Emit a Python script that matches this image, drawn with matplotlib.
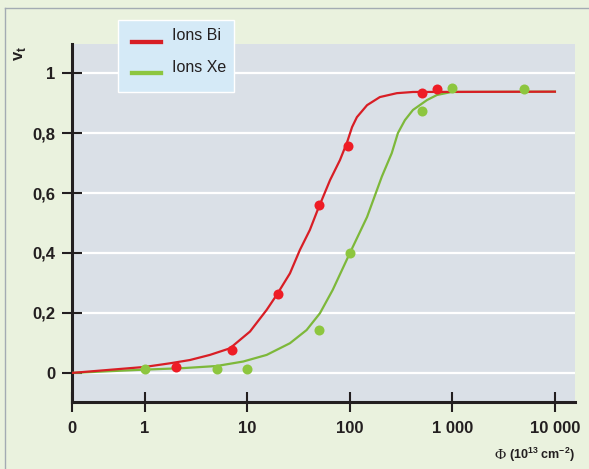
import matplotlib
matplotlib.use('Agg')
import matplotlib.pyplot as plt
from matplotlib.lines import Line2D
from matplotlib.patches import Rectangle

plt.rcParams['font.family'] = ['Liberation Sans', 'DejaVu Sans']
plt.rcParams['mathtext.fontset'] = 'custom'
plt.rcParams['mathtext.rm'] = 'Liberation Sans'
plt.rcParams['mathtext.bf'] = 'Liberation Sans:bold'

# measured points
phi_bi_pts = [2, 7, 20, 50, 95, 500, 700]
vt_bi_pts = [0.021, 0.077, 0.262, 0.56, 0.757, 0.932, 0.946]
phi_xe_pts = [1, 5, 10, 50, 100, 500, 1000, 5000]
vt_xe_pts = [0.012, 0.012, 0.012, 0.143, 0.40, 0.874, 0.949, 0.947]

# fitted curves
phi_bi_fit = [0, 1, 1.75, 2.75, 4.3, 6.75, 10.6, 15.4, 19.3, 26, 32.5, 40.7, 48, 64, 80, 94,
              105, 117, 147, 196, 287, 412, 10000]
vt_bi_fit = [0, 0.02, 0.032, 0.043, 0.06, 0.082, 0.138, 0.21, 0.26, 0.332, 0.41, 0.477, 0.54,
             0.643, 0.71, 0.77, 0.82, 0.853, 0.893, 0.92, 0.933, 0.937, 0.938]
phi_xe_fit = [0, 1, 2.36, 5, 9.1, 15.4, 26, 37.8, 51, 68, 100, 147, 205, 256, 294, 344, 412,
              565, 707, 980, 10000]
vt_xe_fit = [0, 0.011, 0.016, 0.023, 0.038, 0.06, 0.099, 0.143, 0.199, 0.277, 0.40, 0.52,
             0.655, 0.733, 0.80, 0.843, 0.877, 0.91, 0.927, 0.937, 0.938]

x_ticks = [0, 1, 10, 100, 1000, 10000]
x_labels = ['0', '1', '10', '100', '1 000', '10 000']
y_ticks = [0, 0.2, 0.4, 0.6, 0.8, 1]
y_labels = ['0', '0,2', '0,4', '0,6', '0,8', '1']

series_names = ['Ions Bi', 'Ions Xe']

RED = '#D81E25'
RED_DOT = '#EE1C25'
GREEN = '#7DB83A'
GREEN_DOT = '#8DC63F'
DARK = '#231F20'

W, H = 589, 469
fig = plt.figure(figsize=(W / 100, H / 100), dpi=100, facecolor='#EAF2DE')
ax = fig.add_axes([72 / W, 1 - 402 / H, (575 - 72) / W, (402 - 44) / H])
ax.set_facecolor('#DAE0E7')

ax.set_xscale('symlog', linthresh=1, linscale=0.64)
ax.set_xlim(0, 15700)
ax.set_ylim(-0.097, 1.097)
ax.minorticks_off()

ax.set_xticks(x_ticks, x_labels)
ax.set_yticks(y_ticks, y_labels)
ax.yaxis.grid(True, color='white', lw=1.6)
ax.set_axisbelow(True)

ax.tick_params(axis='both', direction='inout', length=14, width=1.5, color=DARK,
               labelsize=12, labelcolor=DARK)
ax.tick_params(axis='x', pad=7)
ax.tick_params(axis='y', pad=5)
for lab in ax.get_xticklabels() + ax.get_yticklabels():
    lab.set_fontweight('bold')

for s in ['top', 'right']:
    ax.spines[s].set_visible(False)
for s in ['left', 'bottom']:
    ax.spines[s].set_linewidth(2.2)
    ax.spines[s].set_color(DARK)

ax.plot(phi_xe_fit, vt_xe_fit, color=GREEN, lw=1.6, zorder=3, solid_joinstyle='round')
ax.plot(phi_bi_fit, vt_bi_fit, color=RED, lw=1.6, zorder=3.1, solid_joinstyle='round')
ax.scatter(phi_bi_pts, vt_bi_pts, s=52, color=RED_DOT, lw=0, zorder=4)
ax.scatter(phi_xe_pts, vt_xe_pts, s=52, color=GREEN_DOT, lw=0, zorder=4.1)

# legend box drawn by hand
fig.add_artist(Rectangle((118 / W, 1 - 92 / H), (234 - 118) / W, (92 - 20) / H,
                         transform=fig.transFigure, facecolor='#D5EAF7',
                         edgecolor='white', lw=1, zorder=5))
for name, col, ly, ty in [(series_names[0], RED, 42, 36), (series_names[1], GREEN_DOT, 73, 67)]:
    fig.add_artist(Line2D([132 / W, 161 / W], [1 - ly / H] * 2, transform=fig.transFigure,
                          color=col, lw=3.1, zorder=6))
    fig.text(172 / W, 1 - ty / H, name, va='center', ha='left', fontsize=11.5,
             color=DARK, zorder=6)

# frame lines of the panel
fig.add_artist(Line2D([4.5 / W, 4.5 / W], [0, 1 - 8.5 / H], transform=fig.transFigure,
                      color='#A3ABB3', lw=1))
fig.add_artist(Line2D([4.5 / W, 1], [1 - 8.5 / H] * 2, transform=fig.transFigure,
                      color='#A3ABB3', lw=1))

# axis titles
fig.text(20 / W, 1 - 53 / H, r'$\mathbf{v}_\mathbf{t}$', rotation=90, ha='center',
         va='center', fontsize=12, color=DARK)
fig.text(506 / W, 1 - 455 / H, 'Φ', family='Liberation Serif', fontsize=11,
         ha='right', va='center', color=DARK)
fig.text(509 / W, 1 - 455 / H, r'(10$^{\mathbf{13}}$ cm$^{\mathbf{-2}}$)', fontweight='bold',
         fontsize=9, ha='left', va='center', color=DARK)

fig.savefig('out.png', dpi=100, facecolor=fig.get_facecolor())
